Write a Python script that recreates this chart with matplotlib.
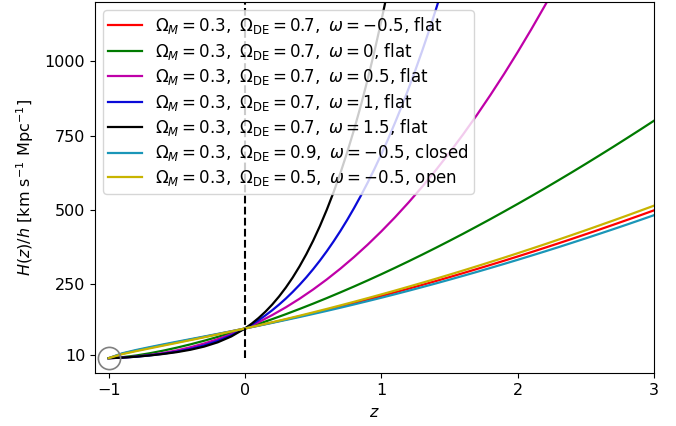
import matplotlib
matplotlib.use('Agg')
import matplotlib.pyplot as plt
import numpy as np

plt.rcParams['font.size'] = 11.5

# redshift grid (step 0.1)
z = [-1.0, -0.9, -0.8, -0.7, -0.6, -0.5, -0.4, -0.3, -0.2, -0.1, 0.0,
     0.1, 0.2, 0.3, 0.4, 0.5, 0.6, 0.7, 0.8, 0.9, 1.0,
     1.1, 1.2, 1.3, 1.4, 1.5, 1.6, 1.7, 1.8, 1.9, 2.0,
     2.1, 2.2, 2.3, 2.4, 2.5, 2.6, 2.7, 2.8, 2.9, 3.0]
# finer grid for the steep curves
z_blue = [-1.0, -0.9, -0.8, -0.7, -0.6, -0.5, -0.4, -0.3, -0.2, -0.1, 0.0,
          0.05, 0.1, 0.15, 0.2, 0.25, 0.3, 0.35, 0.4, 0.45, 0.5,
          0.55, 0.6, 0.65, 0.7, 0.75, 0.8, 0.85, 0.9, 0.95, 1.0,
          1.05, 1.1, 1.15, 1.2, 1.25, 1.3, 1.35, 1.4, 1.45]
z_black = [-1.0, -0.9, -0.8, -0.7, -0.6, -0.5, -0.4, -0.3, -0.2, -0.1, 0.0,
           0.05, 0.1, 0.15, 0.2, 0.25, 0.3, 0.35, 0.4, 0.45, 0.5,
           0.55, 0.6, 0.65, 0.7, 0.75, 0.8, 0.85, 0.9, 0.95, 1.0, 1.05]

# H(z)/h
H_m05_flat = [0, 15.0, 25.5, 35.1, 44.3, 53.4, 62.5, 71.6, 80.9, 90.4, 100,
              109.9, 119.9, 130.3, 140.8, 151.6, 162.7, 173.9, 185.5, 197.3, 209.3,
              221.6, 234.1, 246.8, 259.8, 273.0, 286.5, 300.2, 314.1, 328.2, 342.6,
              357.2, 372.0, 387.0, 402.2, 417.7, 433.3, 449.2, 465.3, 481.5, 498.0]
H_0_flat = [0, 3.2, 8.9, 16.4, 25.3, 35.4, 46.5, 58.6, 71.6, 85.4, 100,
            115.4, 131.5, 148.2, 165.7, 183.7, 202.4, 221.7, 241.5, 261.9, 282.8,
            304.3, 326.3, 348.8, 371.8, 395.3, 419.2, 443.7, 468.5, 493.9, 519.6,
            545.8, 572.4, 599.5, 626.9, 654.8, 683.1, 711.7, 740.8, 770.2, 800.0]
H_05_flat = [0, 1.8, 5.4, 10.6, 17.5, 26.2, 36.8, 49.3, 64.0, 80.9, 100,
             121.4, 145.2, 171.4, 200.1, 231.4, 265.2, 301.6, 340.7, 382.5, 427.1,
             474.4, 524.6, 577.6, 633.5, 692.3, 754.0, 818.7, 886.5, 957.2, 1031.1,
             1108.0, 1188.0, 1271.2]
H_1_flat = [0, 1.7, 4.9, 9.3, 14.9, 22.0, 31.2, 43.0, 58.1, 76.9, 100,
            113.4, 128.0, 144.1, 161.5, 180.5, 200.9, 223.1, 246.9, 272.4, 299.8,
            329.0, 360.2, 393.4, 428.6, 466.0, 505.6, 547.4, 591.5, 638.0, 687.0,
            738.5, 792.6, 849.2, 908.6, 970.8, 1035.7, 1103.6, 1174.4, 1248.2]
H_15_flat = [0, 1.7, 4.9, 9.0, 14.1, 20.3, 28.3, 38.9, 53.4, 73.2, 100,
             116.5, 135.3, 156.6, 180.7, 207.8, 238.1, 271.7, 309.1, 350.3, 395.7,
             445.5, 500.0, 559.3, 623.9, 693.9, 769.7, 851.5, 939.7, 1034.5, 1136.3,
             1245.3]
H_m05_closed = [0, 16.4, 27.4, 37.1, 46.4, 55.3, 64.1, 72.9, 81.8, 90.8, 100,
                109.3, 118.9, 128.7, 138.6, 148.9, 159.3, 170.0, 181.0, 192.2, 203.6,
                215.3, 227.2, 239.4, 251.8, 264.5, 277.4, 290.5, 303.9, 317.5, 331.3,
                345.4, 359.6, 374.1, 388.9, 403.8, 419.0, 434.3, 449.9, 465.7, 481.7]
H_m05_open = [0, 13.5, 23.5, 32.9, 42.2, 51.4, 60.8, 70.3, 80.0, 89.9, 100,
              110.4, 121.0, 131.8, 142.9, 154.3, 165.9, 177.8, 189.9, 202.2, 214.8,
              227.6, 240.7, 254.0, 267.5, 281.3, 295.3, 309.5, 324.0, 338.6, 353.5,
              368.6, 383.9, 399.5, 415.2, 431.1, 447.3, 463.6, 480.1, 496.9, 513.8]

labels = [r'$\Omega_M = 0.3,\ \Omega_{\rm DE} = 0.7,\ \omega = -0.5$, flat',
          r'$\Omega_M = 0.3,\ \Omega_{\rm DE} = 0.7,\ \omega = 0$, flat',
          r'$\Omega_M = 0.3,\ \Omega_{\rm DE} = 0.7,\ \omega = 0.5$, flat',
          r'$\Omega_M = 0.3,\ \Omega_{\rm DE} = 0.7,\ \omega = 1$, flat',
          r'$\Omega_M = 0.3,\ \Omega_{\rm DE} = 0.7,\ \omega = 1.5$, flat',
          r'$\Omega_M = 0.3,\ \Omega_{\rm DE} = 0.9,\ \omega = -0.5$, closed',
          r'$\Omega_M = 0.3,\ \Omega_{\rm DE} = 0.5,\ \omega = -0.5$, open']
zs = [z, z, z, z_blue, z_black, z, z]
series = [H_m05_flat, H_0_flat, H_05_flat, H_1_flat, H_15_flat, H_m05_closed, H_m05_open]
colors = ['red', '#007a00', '#bf00a8', '#0a0ad8', 'black', '#1a96b8', '#c8b400']

fig = plt.figure(figsize=(6.76, 4.26), dpi=100)
ax = fig.add_axes([0.1405, 0.1244, 0.827, 0.871])

for zz, H, c, lab in zip(zs, series, colors, labels):
    ax.plot(zz[:len(H)], H, '-', color=c, lw=1.6, label=lab)

# big-bang / present-day markers
ax.plot([0, 0], [0, 1200], 'k--', lw=1.5)
ax.plot([-1], [0], 'o', ms=16, mfc='none', mec='grey', mew=1.2)

ax.set_xlim(-1.1, 3)
ax.set_ylim(-50, 1200)
ax.set_xticks([-1, 0, 1, 2, 3])
ax.set_yticks([10, 250, 500, 750, 1000])
ax.set_xlabel(r'$z$', labelpad=5)
ax.set_ylabel(r'$H(z)/h$ [km s$^{-1}$ Mpc$^{-1}$]', labelpad=6.5)
ax.legend(loc='upper left', fontsize=12, labelspacing=0.265, borderpad=0.3)

plt.savefig('out.png', dpi=100)
